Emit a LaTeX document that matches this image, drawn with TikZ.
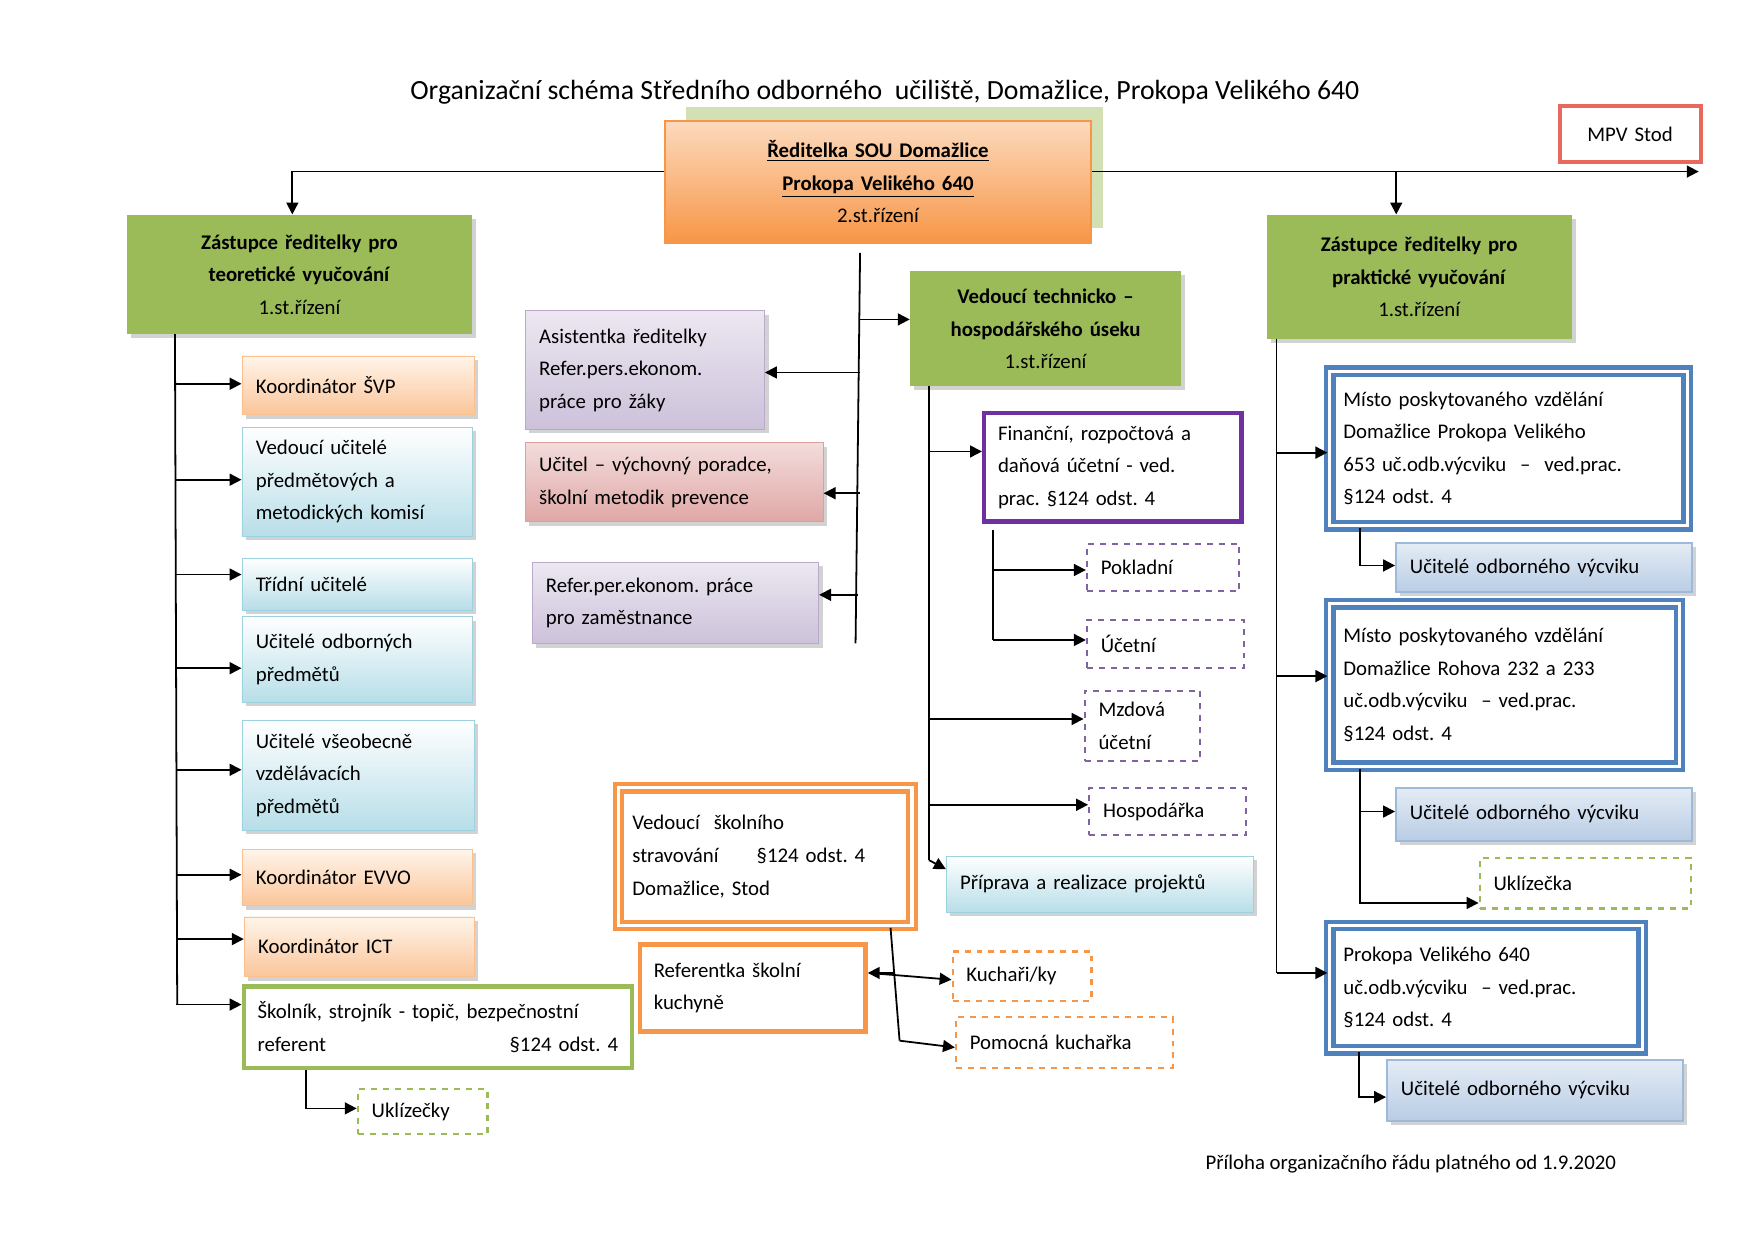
\documentclass[tikz,border=0pt]{standalone}
\usepackage{fontspec}
\setmainfont{Carlito}
\usetikzlibrary{arrows.meta,shadows}
\definecolor{grn}{HTML}{9BBB59}
\definecolor{org}{HTML}{F79646}
\definecolor{prp}{HTML}{7030A0}
\definecolor{dprp}{HTML}{8064A2}
\definecolor{blu}{HTML}{4F81BD}
\definecolor{mred}{HTML}{E8685E}
\definecolor{aqua}{HTML}{4BACC6}
\definecolor{rose}{HTML}{C0504D}
\frenchspacing

\begin{document}
\begin{tikzpicture}[x=0.02cm, y=-0.02cm, font=\fontsize{10.5}{16.4}\selectfont,
  bx/.style 2 args={anchor=north west, minimum width=#1*0.02cm, minimum height=#2*0.02cm,
    text width=#1*0.02cm-14pt, inner xsep=7pt, inner ysep=2pt, align=left},
  shd/.style={drop shadow={shadow xshift=2pt, shadow yshift=-2pt, fill=black!35, opacity=.5}},
  gb/.style={shd, fill=grn, align=center},
  ob/.style={shd, top color=orange!8, bottom color=org!55, draw=org!60},
  bb/.style={shd, top color=white, bottom color=aqua!40, draw=aqua!55},
  pb/.style={shd, top color=dprp!15, bottom color=dprp!40, draw=dprp!55},
  rb/.style={shd, top color=rose!20, bottom color=rose!50, draw=rose!55},
  ub/.style={shd, top color=blu!15, bottom color=blu!40, draw=blu!55, line width=1pt},
  db/.style={draw=#1, dashed, line width=1.1pt},
  dbl/.style={draw=#1, line width=2.2pt, double=white, double distance=1.6pt},
  arr/.style={-{Triangle[length=6pt,width=6pt]}, line width=.9pt},
  ln/.style={line width=.9pt}]
\useasboundingbox (0,0) rectangle (1554,1098);

\node (title) at (784,82) {\fontsize{14}{16}\selectfont Organizační schéma Středního odborného~ učiliště, Domažlice, Prokopa Velikého 640};
\node[bx={125}{50}, draw=mred, line width=2pt, align=center] (mpv) at (1380,92) {MPV Stod};

% vedeni
\fill[grn!45] (608,95) rectangle (977,202);
\node[bx={378}{108}, top color=org!35, bottom color=org, draw=org, line width=1pt, align=center] (dir) at (588,106)
  {\textbf{\underline{Ředitelka SOU Domažlice}}\\ \textbf{\underline{Prokopa Velikého 640}}\\ 2.st.řízení};
\node[bx={306}{106}, gb] (zt) at (112,190) {\textbf{Zástupce ředitelky pro}\\ \textbf{teoretické vyučování}\\ 1.st.řízení};
\node[bx={270}{110}, gb] (zp) at (1122,190) {\textbf{Zástupce ředitelky pro}\\ \textbf{praktické vyučování}\\ 1.st.řízení};
\node[bx={240}{102}, gb] (vt) at (806,240) {\textbf{Vedoucí technicko –}\\ \textbf{hospodářského úseku}\\ 1.st.řízení};

% teoreticke
\node[bx={206}{52}, ob] (svp) at (214,315) {Koordinátor ŠVP};
\node[bx={204}{97}, bb] (vuc) at (214,378) {Vedoucí učitelé\\ předmětových a\\ metodických komisí};
\node[bx={204}{46}, bb] (tri) at (214,494) {Třídní učitelé};
\node[bx={204}{76}, bb] (uop) at (214,546) {Učitelé odborných\\ předmětů};
\node[bx={206}{97}, bb] (uvs) at (214,638) {Učitelé všeobecně\\ vzdělávacích\\ předmětů};
\node[bx={204}{50}, ob] (evvo) at (214,752) {Koordinátor EVVO};
\node[bx={204}{53}, ob] (ict) at (216,812) {Koordinátor ICT};
\node[bx={344}{72}, draw=grn, line width=2.2pt] (skol) at (214,872) {Školník, strojník - topič, bezpečnostní\\ referent \hfill §124 odst. 4\hspace*{6pt}};
\node[bx={115}{40}, db=grn] (ukl) at (316,964) {Uklízečky};

% reditelka
\node[bx={212}{105}, pb] (asi) at (465,275) {Asistentka ředitelky\\ Refer.pers.ekonom.\\ práce pro žáky};
\node[bx={264}{70}, rb] (vyp) at (465,392) {Učitel – výchovný poradce,\\ školní metodik prevence};
\node[bx={254}{72}, pb] (ref) at (471,498) {Refer.per.ekonom. práce\\ pro zaměstnance};

% technicko-hospodarsky
\node[bx={228}{96}, draw=prp, line width=2.2pt] (fin) at (870,364) {Finanční, rozpočtová a\\ daňová účetní - ved.\\ prac. §124 odst. 4};
\node[bx={135}{42}, db=dprp] (pok) at (962,481) {Pokladní};
\node[bx={139}{43}, db=dprp] (uce) at (962,548) {Účetní};
\node[bx={102}{62}, db=dprp] (mzd) at (960,611) {Mzdová\\ účetní};
\node[bx={139}{42}, db=dprp] (hos) at (964,697) {Hospodářka};
\node[bx={272}{50}, bb] (pri) at (838,758) {Příprava a realizace projektů};
\node[bx={260}{122}, dbl=org] (stv) at (546,696) {Vedoucí~ školního\\ stravování \hspace{1.5em}§124 odst. 4\\ Domažlice, Stod};
\node[bx={200}{77}, draw=org, line width=2.2pt] (kuch) at (565,835) {Referentka školní\\ kuchyně};
\node[bx={123}{44}, db=org] (kuc) at (843,842) {Kuchaři/ky};
\node[bx={192}{45}, db=org] (pom) at (846,900) {Pomocná kuchařka};

% prakticke
\node[bx={317}{137}, dbl=blu] (mi1) at (1176,327) {Místo poskytovaného vzdělání\\ Domažlice Prokopa Velikého\\ 653 uč.odb.výcviku ~– ~ved.prac.\\ §124 odst. 4};
\node[bx={262}{44}, ub] (uo1) at (1236,480) {Učitelé odborného výcviku};
\node[bx={310}{144}, dbl=blu] (mi2) at (1176,533) {Místo poskytovaného vzdělání\\ Domažlice Rohova 232 a 233\\ uč.odb.výcviku ~– ved.prac.\\ §124 odst. 4};
\node[bx={262}{47}, ub] (uo2) at (1236,697) {Učitelé odborného výcviku};
\node[bx={187}{45}, db=grn] (ukl2) at (1310,759) {Uklízečka};
\node[bx={277}{110}, dbl=blu] (mi3) at (1176,818) {Prokopa Velikého 640\\ uč.odb.výcviku ~– ved.prac.\\ §124 odst. 4};
\node[bx={262}{54}, ub] (uo3) at (1228,938) {Učitelé odborného výcviku};

\node[anchor=east] (pril) at (1438,1031) {Příloha organizačního řádu platného od 1.9.2020};

% spojnice
\coordinate (end) at (1505,152);
\draw[arr] (dir.west |- 0,152) -| (zt.north -| 259,0);
\draw[arr] (dir.east |- 0,152) -- (end);
\draw[arr] (1237,152) -- (zp.north -| 1237,0);

\coordinate (dt) at (762,224);
\coordinate (dd) at (758,570);
\draw[ln] (dt) -- (dd);
\draw[arr] (762,283) -- (vt.west |- 0,283);
\draw[arr] (762,330) -- (asi.east |- 0,330);
\draw[arr] (762,437) -- (vyp.east |- 0,437);
\draw[arr] (760,527) -- (ref.east |- 0,527);

\coordinate (lt) at (155,296);
\coordinate (lb) at (157,890);
\draw[ln] (lt) -- (lb);
\foreach \n/\y in {svp/340,vuc/425,tri/509,uop/592,uvs/682,evvo/775,ict/832,skol/890}
  \draw[arr] (156,\y) -- (\n.west |- 0,\y);
\draw[arr] (skol.south -| 271,0) |- (ukl.west |- 0,982);

\coordinate (tt) at (823,342);
\coordinate (tb) at (823,762);
\draw[ln] (tt) -- (tb);
\foreach \n/\y in {fin/400,mzd/637,hos/713}
  \draw[arr] (823,\y) -- (\n.west |- 0,\y);
\draw[arr] (tb) -- (pri.west |- 0,770);
\draw[ln] (880,470) -- (880,567);
\draw[arr] (880,505) -- (pok.west |- 0,505);
\draw[arr] (880,567) -- (uce.west |- 0,567);

\coordinate (st) at (789,822);
\coordinate (sb) at (797,922);
\draw[ln] (st) -- (sb);
\draw[arr] (792,862) -- (kuch.east |- 0,862);
\draw[arr] (770,862) -- (kuc.west |- 0,868);
\draw[arr] (sb) -- (pom.west |- 0,928);

\coordinate (rt) at (1131,300);
\coordinate (rb) at (1131,862);
\draw[ln] (rt) -- (rb);
\draw[arr] (1131,401) -- (mi1.west |- 0,401);
\draw[arr] (1131,599) -- (mi2.west |- 0,599);
\draw[arr] (rb) -- (mi3.west |- 0,862);
\draw[arr] (mi1.south -| 1205,0) |- (uo1.west |- 0,501);
\draw[arr] (mi2.south -| 1205,0) |- (ukl2.west |- 0,800);
\draw[arr] (1205,719) -- (uo2.west |- 0,719);
\draw[arr] (mi3.south -| 1204,0) |- (uo3.west |- 0,972);
\end{tikzpicture}
\end{document}
